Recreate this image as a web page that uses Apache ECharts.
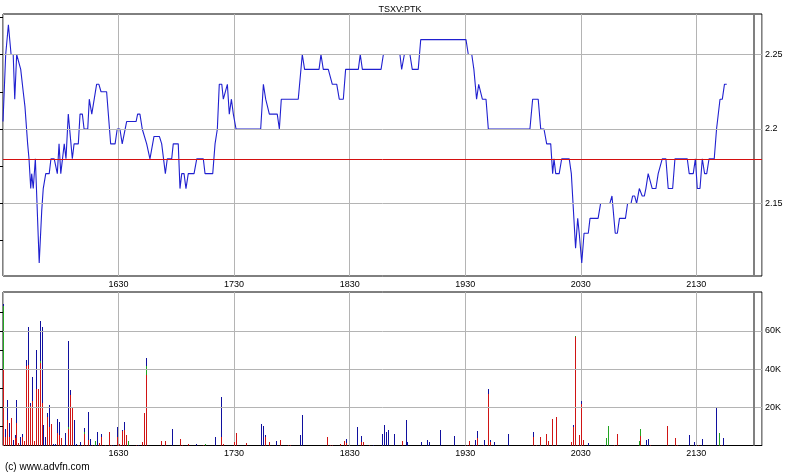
<!DOCTYPE html>
<html>
<head>
<meta charset="utf-8">
<script src="https://cdn.jsdelivr.net/npm/echarts@6/dist/echarts.min.js"></script>
<style>
html,body{margin:0;padding:0;background:#fff;}
#chart{width:800px;height:475px;}
</style>
</head>
<body>
<div id="chart"></div>
<script>
// ---- DATA ----
const chartTitle = 'TSXV:PTK';
const footerText = '(c) www.advfn.com';
const sessionCloseMinute = 390;              // 22:00 (minute 0 = 15:30)
const axisEndMinute = 394.1;
const prevClose = 2.18;

const xTickMinutes = [60, 120, 180, 240, 300, 360];
const xTickLabels = ['1630', '1730', '1830', '1930', '2030', '2130'];

const priceTickValues = [2.15, 2.2, 2.25];
const priceMinorTicks = [2.125, 2.15, 2.175, 2.2, 2.225, 2.25, 2.275];
const priceMin = 2.1013, priceMax = 2.2772;

const volTickValues = [20, 40, 60];           // thousands
const volMinorTicks = [10, 20, 30, 40, 50, 60, 70];
const volMax = 80.4;

// price line vertices: minutes after 15:30, price
const priceMinutes = [
 0,1.4,2.8,4.2,5.3,6.1,7.1,7.9,9.2,10.5,
 11.4,12.8,13.5,14.4,14.9,15.7,16.8,18.8,20.1,20.9,
 22.2,24.0,24.9,26.6,28.2,29.1,30.0,31.0,31.8,32.7,
 33.9,36.0,36.9,39.1,40.0,41.2,42.1,44.0,44.8,46.1,
 46.9,48.6,49.8,50.9,53.8,55.9,58.2,59.3,60.7,61.9,
 62.8,64.2,69.1,69.9,71.1,72.3,73.2,74.6,75.4,76.3,
 77.2,78.4,81.2,82.4,83.2,84.3,85.3,87.6,88.4,91.0,
 91.9,92.8,94.0,95.0,96.2,99.2,100.6,104.0,104.9,108.9,
 110.1,111.3,112.3,113.6,114.4,115.4,116.5,117.5,118.6,119.6,
 120.1,121.0,133.8,135.2,136.4,137.2,138.3,142.4,143.5,144.5,
 153.3,155.4,156.6,164.1,165.1,166.3,168.9,171.0,173.3,174.6,
 176.7,177.9,184.5,185.5,186.6,196.3,197.5,206.1,207.0,208.4,
 211.3,212.5,215.6,216.9,240.4,241.6,243.4,244.5,245.9,247.0,
 247.8,248.9,250.8,252.0,273.6,275.0,277.9,279.2,280.9,282.3,
 284.4,285.4,286.1,287.0,288.8,290.1,294.0,295.1,296.1,297.3,
 298.4,299.2,300.5,301.7,303.9,304.8,309.0,310.3,315.1,316.2,
 316.9,317.9,319.0,320.1,323.2,324.3,326.1,326.9,328.0,329.0,
 330.4,331.9,333.0,333.8,335.0,335.9,337.1,339.0,340.2,341.1,
 342.3,344.2,345.4,347.7,348.9,355.3,356.3,358.4,359.5,360.5,
 361.9,363.1,364.3,365.4,366.6,369.3,370.5,371.3,372.3,373.5,
 374.6,375.8
];
const priceValues = [
 2.205,2.25,2.27,2.25,2.25,2.22,2.25,2.25,2.24,2.225,
 2.215,2.19,2.18,2.16,2.17,2.16,2.18,2.11,2.145,2.16,
 2.17,2.17,2.18,2.18,2.17,2.19,2.17,2.17,2.19,2.18,
 2.21,2.18,2.19,2.19,2.21,2.21,2.2,2.2,2.22,2.21,
 2.21,2.23,2.23,2.225,2.225,2.19,2.19,2.2,2.2,2.19,
 2.19,2.205,2.205,2.21,2.21,2.2,2.2,2.19,2.19,2.18,
 2.18,2.195,2.195,2.19,2.19,2.17,2.18,2.18,2.19,2.19,
 2.16,2.17,2.17,2.16,2.17,2.17,2.18,2.18,2.17,2.17,
 2.19,2.2,2.23,2.23,2.22,2.22,2.23,2.21,2.22,2.21,
 2.21,2.2,2.2,2.23,2.22,2.22,2.21,2.21,2.2,2.22,
 2.22,2.25,2.24,2.24,2.25,2.24,2.24,2.23,2.23,2.22,
 2.22,2.24,2.24,2.25,2.24,2.24,2.25,2.25,2.24,2.25,
 2.25,2.24,2.24,2.26,2.26,2.25,2.25,2.24,2.22,2.23,
 2.23,2.22,2.22,2.2,2.2,2.22,2.22,2.2,2.2,2.19,
 2.19,2.17,2.18,2.17,2.17,2.18,2.18,2.17,2.17,2.12,
 2.14,2.13,2.11,2.13,2.13,2.14,2.14,2.15,2.15,2.155,
 2.155,2.13,2.13,2.14,2.14,2.15,2.15,2.155,2.155,2.15,
 2.16,2.155,2.155,2.16,2.17,2.17,2.16,2.16,2.17,2.17,
 2.18,2.18,2.16,2.16,2.18,2.18,2.17,2.17,2.18,2.16,
 2.16,2.18,2.17,2.17,2.18,2.18,2.2,2.2,2.22,2.22,
 2.23,2.23
];

// volume per minute (thousands of shares), split by colour
const volMinute = [
 0,1,2,3,4,5,6,7,8,9,10,11,12,13,14,15,16,17,18,19,
 20,21,22,23,24,25,26,27,28,29,30,31,32,33,34,35,36,37,38,39,
 40,41,42,43,44,45,46,47,48,49,50,51,53,55,56,57,
 59,60,61,62,63,64,65,69,70,72,73,74,82,84,88,92,93,96,100,104,
 105,110,113,114,120,121,126,134,135,136,138,142,144,148,149,154,155,168,170,171,
 175,177,178,184,186,187,190,192,197,198,199,200,203,207,209,210,217,220,221,227,
 234,241,242,244,245,246,249,250,252,253,255,262,275,277,279,282,283,285,287,295,
 296,297,298,299,300,301,304,312,313,314,317,319,330,331,334,335,336,345,349,350,
 356,359,361,363,370,372,373,374
];
const volRed = [
 40,4.6,13.3,4.6,14.2,0,3.7,11.6,1.1,0,4.6,2.5,41.6,42.1,20.7,23.5,2.4,29.4,29.8,43.4,
 22,0,0,14.7,9.9,11.3,0,0,6.4,5.5,3.7,0,0,0.5,8.5,26.4,20,0,0,0.5,
 0,0.5,6,0.5,2.8,0,0.5,0,0,0,1.5,4.6,0.5,7.2,0.5,0,
 4.6,1,0.5,7.8,8,5.5,0,0.5,0,1.7,16.8,36.9,2.5,2.4,0,3.6,0.5,0.8,0,0.5,
 0,0,4.3,0.8,1.8,6.7,1.5,0,0,4.6,1.8,0,2.9,0.5,0.5,0,0,4.6,0.5,0.5,
 0.8,2.4,1.5,0,2,2,0.5,0,0,0,0,0,0,2.5,0,0,0,0,0,0,
 0,0.5,2.2,0.5,0,4.1,0.5,0,26.8,1.8,0,0,4.6,0.5,4.6,6,2.5,13.9,15.1,1.8,
 9.5,56.6,0.5,5.5,21.7,2.9,0,0,0,0,0.5,6,0,5,0,0,0.5,10.2,3.7,0.5,
 0,0,0.5,0,0,0,0.5,0
];
const volGreen = [
 33,0,0,0,0,0,0,0,0,0,0,0,0,0,0,0,0,0,0,0.6,
 0,0,0,0,0,0,0,0,0,0,0,0,0,0,1,0,0,0,0,0,
 0,0,1.3,0,0,0,0,0,2.4,0,0,0,0,0,0,0,
 0,0,0,0,0,0,2.4,0,0,0,0,4.7,0,0,0,0,0,0,0,0,
 0.8,0,0,0,0,0,0,0,0,0,0,0,0,0,0,0,0,0,0,0,
 0,0,0,0,0,0,0,0,0,0,0,0,0,0,0,0,0,0,0,0,
 0,0,0,0,0,0,0,0,0,0,0,0,0,0,0,0,0,0,0,0,
 0,0.7,0,0,0,0,0,0,3.7,10.2,0,0,2.4,3.6,0,0,0,0,0,0,
 0,0,0,0,0,6.4,0,0
];
const volBlue = [
 1,3.9,10.5,7,0,2.9,1.8,12.2,0,4.6,1.4,0,3.2,20.1,1.3,12.5,0,20.6,0,21.3,
 40.2,10.7,4.6,2.1,11.3,0,0.6,1,7.3,7,0,0.5,6.7,0,45.2,2.6,0,13.4,1,0,
 1.8,0,1.7,0,14.7,3.2,0,0.5,0,7,0,1.4,0,0,0,0.5,
 5.3,0,0,0.3,4.3,0,0,0,0.5,0,0,4.2,0,0,8.8,0,0,0,0.8,0,
 0,4.6,21.3,0,0,0,0,11.2,10.4,0.9,0,2.4,0,0,0,5.5,16,0,0,0,
 0,0,1.9,9.9,3.1,0,0,0.5,6.2,10.7,7.2,8.3,6.2,0,13.4,1.8,1.8,2.9,1.8,8.1,
 5,0,0,0,2.9,3.5,0,2.9,2.8,1.1,1.8,6,2.4,0,0,0,0,0,0,0,
 1,0,0,0,1.6,0,1.1,0.5,0,0,0,0,0,0,2.9,3.2,0,0,0,0,
 5.5,1.7,0,3.2,20,0,0,3.7
];

// ---- CHART ----
const FONT = 'Liberation Sans, Arial, sans-serif';
const GRID_GRAY = '#b4b4b4';
const COL_RED = '#d01414', COL_GREEN = '#22a422', COL_BLUE = '#10109e';
const COL_PREV = '#d41010', COL_LINE = '#2020d0';
const priceData = priceMinutes.map((t, i) => [t, priceValues[i]]);
const volData = volMinute.map((m, i) => [m, volRed[i], volGreen[i], volBlue[i]]);

function xLabel(v) {
  const i = xTickMinutes.indexOf(Math.round(v));
  return (i >= 0 && Math.abs(v - xTickMinutes[i]) < 1e-6) ? xTickLabels[i] : '';
}

const xAxisBase = (gi) => ({
  type: 'value', gridIndex: gi, min: 0, max: axisEndMinute, interval: 60,
  axisLine: { show: false }, axisTick: { show: false },
  axisLabel: { formatter: xLabel, fontSize: 9, fontFamily: FONT, color: '#000', margin: 4,
               showMinLabel: false, showMaxLabel: false },
  splitLine: { show: true, lineStyle: { color: GRID_GRAY, width: 1 } }
});

function hLine(v, color, width) {
  return { yAxis: v, lineStyle: { color: color, width: width, type: 'solid' } };
}

function renderVolume(params, api) {
  const m = api.value(0);
  const r = api.value(1), g = api.value(2), b = api.value(3);
  const base = api.coord([m, 0]);
  const yR = api.coord([m, r])[1];
  const yG = api.coord([m, r + g])[1];
  const yB = api.coord([m, r + g + b])[1];
  const x = Math.round(base[0]);
  const y0 = Math.round(base[1]);
  const parts = [];
  function seg(top, bottom, color) {
    const t = Math.round(top), bt = Math.round(bottom);
    let h = bt - t;
    if (bottom - top > 0.05 && h < 1) h = 1;
    if (h <= 0) return;
    parts.push({ type: 'rect', shape: { x: x, y: bt - h, width: 1, height: h },
                 style: { fill: color } });
  }
  if (r > 0) seg(yR, y0, COL_RED);
  if (g > 0) seg(yG, Math.round(yR), COL_GREEN);
  if (b > 0) seg(yB, Math.round(yG), COL_BLUE);
  return { type: 'group', children: parts };
}

const chart = echarts.init(document.getElementById('chart'), null, { renderer: 'canvas' });
chart.setOption({
  animation: false,
  backgroundColor: '#fff',
  title: { text: chartTitle, left: 'center', top: 0,
           textStyle: { fontSize: 9, fontWeight: 'normal', color: '#000', fontFamily: FONT } },
  graphic: [{ type: 'text', left: 5, top: 462,
              style: { text: footerText, font: '10px ' + FONT, fill: '#000' } }],
  grid: [
    { left: 3, top: 14, width: 759, height: 262, show: true, borderColor: '#000', borderWidth: 1, backgroundColor: 'transparent' },
    { left: 3, top: 292, width: 759, height: 153.5, show: true, borderColor: '#000', borderWidth: 1, backgroundColor: 'transparent' }
  ],
  xAxis: [xAxisBase(0), xAxisBase(1)],
  yAxis: [
    { type: 'value', gridIndex: 0, position: 'right', min: priceMin, max: priceMax,
      axisLine: { show: false },
      axisTick: { show: true, inside: true, length: 3, customValues: priceMinorTicks, lineStyle: { color: '#000' } },
      axisLabel: { customValues: priceTickValues, formatter: v => String(+v.toFixed(3)),
                   fontSize: 9, fontFamily: FONT, color: '#000', margin: 3 },
      splitLine: { show: false } },
    { type: 'value', gridIndex: 1, position: 'right', min: 0, max: volMax,
      axisLine: { show: false },
      axisTick: { show: true, inside: true, length: 3, customValues: volMinorTicks, lineStyle: { color: '#000' } },
      axisLabel: { customValues: volTickValues, formatter: v => v + 'K',
                   fontSize: 9, fontFamily: FONT, color: '#000', margin: 3 },
      splitLine: { show: false } }
  ],
  series: [
    { type: 'line', xAxisIndex: 0, yAxisIndex: 0, data: [], z: 1, silent: true,
      markLine: { silent: true, symbol: 'none', label: { show: false }, animation: false,
        lineStyle: { color: GRID_GRAY, width: 1, type: 'solid' },
        data: priceTickValues.map(v => hLine(v, GRID_GRAY, 1))
          .concat([{ xAxis: sessionCloseMinute, lineStyle: { color: '#808080', width: 2, type: 'solid' } }]) } },
    { type: 'line', xAxisIndex: 0, yAxisIndex: 0, data: priceData, z: 3,
      symbol: 'none', showSymbol: false, color: COL_LINE,
      lineStyle: { color: COL_LINE, width: 1.1 }, silent: true },
    { type: 'line', xAxisIndex: 0, yAxisIndex: 0, data: [], z: 4, silent: true, color: COL_PREV,
      markLine: { silent: true, symbol: 'none', label: { show: false }, animation: false,
        lineStyle: { color: COL_PREV, width: 1, type: 'solid' },
        data: [hLine(prevClose, COL_PREV, 1)] } },
    { type: 'line', xAxisIndex: 1, yAxisIndex: 1, data: [], z: 1, silent: true,
      markLine: { silent: true, symbol: 'none', label: { show: false }, animation: false,
        lineStyle: { color: GRID_GRAY, width: 1, type: 'solid' },
        data: volTickValues.map(v => hLine(v, GRID_GRAY, 1))
          .concat([{ xAxis: sessionCloseMinute, lineStyle: { color: '#808080', width: 2, type: 'solid' } }]) } },
    { type: 'custom', xAxisIndex: 1, yAxisIndex: 1, data: volData, z: 3, silent: true,
      encode: { x: 0, y: [1, 2, 3] }, renderItem: renderVolume, clip: true }
  ]
});
</script>
</body>
</html>
